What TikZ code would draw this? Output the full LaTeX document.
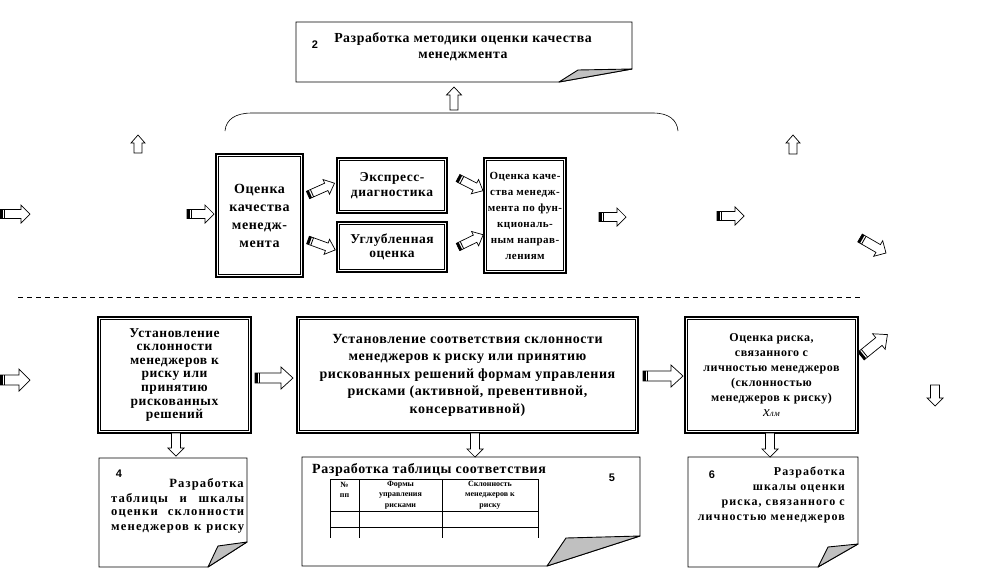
\documentclass[tikz,border=0pt]{standalone}
\usepackage{fontspec}
\setmainfont{Liberation Serif}
\newfontfamily\numfont{Liberation Sans}
\newfontfamily\wsf{Liberation Serif}[LetterSpace=4]
\newfontfamily\wsfw{Liberation Serif}[LetterSpace=9]
\definecolor{foldgray}{HTML}{C0C0C0}
% block arrow: x, y (tail), angle, length, shaft half, head half, head length, striped(1/0)
\newcommand\barw[8]{%
 \begin{scope}[shift={(#1,#2)},rotate=#3]
  \pgfmathsetmacro\arwhb{#4-#7}
  \draw[fill=white,line width=0.7pt,line join=miter] (0pt,-#5pt) -- (\arwhb pt,-#5pt) -- (\arwhb pt,-#6pt) -- (#4pt,0pt) -- (\arwhb pt,#6pt) -- (\arwhb pt,#5pt) -- (0pt,#5pt) -- cycle;
  \ifnum#8=1\relax
   \fill (0pt,-#5pt) rectangle (2.6pt,#5pt);
   \draw[line width=0.8pt] (4.4pt,-#5pt) -- (4.4pt,#5pt);
  \fi
 \end{scope}}
% folded document: x1 y1 x2 y2, bottom end x, right end y, fold point
\newcommand\docshape[8]{%
 \draw[line width=0.9pt] (#1,#2) -- (#3,#2) -- (#3,#6) -- (#5,#4) -- (#1,#4) -- cycle;
 \filldraw[fill=foldgray,line width=0.9pt,line join=round] (#5,#4) -- (#7,#8) -- (#3,#6) -- cycle;}
\newcommand\innerbox[1]{%
 \draw[line width=0.8pt] ([shift={(3.5pt,-3.5pt)}]#1.north west) rectangle ([shift={(-3.5pt,3.5pt)}]#1.south east);}
\begin{document}
\begin{tikzpicture}[x=1pt,y=-1pt,
  dbox/.style={draw,line width=1.6pt,inner sep=0pt,align=center},
  fbig/.style={font={\wsf\bfseries\fontsize{14}{18}\selectfont}},
  fmid/.style={font={\wsf\bfseries\fontsize{13.5}{14.5}\selectfont}},
  ffun/.style={font={\wsf\bfseries\fontsize{11}{16}\selectfont}},
  fb1/.style={font={\wsf\bfseries\fontsize{13.5}{13.6}\selectfont}},
  fb2/.style={font={\wsf\bfseries\fontsize{14}{17.5}\selectfont}},
  fb3/.style={font={\wsf\bfseries\fontsize{12}{15}\selectfont}},
  ftop/.style={font={\wsf\bfseries\fontsize{13.8}{16.5}\selectfont}},
  fdoc/.style={font={\wsfw\bfseries\fontsize{12.6}{15}\selectfont}},
  fdoc6/.style={font={\wsfw\bfseries\fontsize{12}{15.3}\selectfont}},
  fnum/.style={font={\numfont\bfseries\fontsize{11}{13}\selectfont}},
  ftab/.style={font={\bfseries\fontsize{8}{10.5}\selectfont},align=center,inner sep=0pt},
  tline/.style={line width=0.8pt}]
\useasboundingbox (0,0) rectangle (992,584);
\fill[white] (0,0) rectangle (992,584);

% ---------- top document 2 ----------
\docshape{296}{22}{632}{82}{559}{69}{578}{70}
\node[fnum] (n2) at (315,45) {2};
\node[ftop,align=center] (t2) at (463,47) {Разработка методики оценки качества\\менеджмента};
\barw{454}{110}{90}{23}{4}{7.5}{8}{0}
\draw[line width=0.6pt] (225,131) .. controls (226,119) and (236,113) .. (252,113) -- (653,113) .. controls (669,113) and (677,120) .. (678,131);

% free arrows top
\barw{138}{153}{90}{18}{4}{7}{8}{0}
\barw{793}{154}{90}{19}{4}{7}{8}{0}

% ---------- middle row ----------
\node[dbox,fbig,minimum width=87,minimum height=123] (mq) at (259.5,215.5) {Оценка\\качества\\менедж-\\мента};
\innerbox{mq}
\node[dbox,fmid,minimum width=110,minimum height=55] (ex) at (392,185.5) {Экспресс-\\диагностика};
\innerbox{ex}
\node[dbox,fmid,minimum width=110,minimum height=50] (dp) at (392,247) {Углубленная\\оценка};
\innerbox{dp}
\node[dbox,ffun,minimum width=82,minimum height=115] (fn) at (525,215.5) {Оценка каче-\\ства менедж-\\мента по фун-\\кциональ-\\ным направ-\\лениям};
\innerbox{fn}

\barw{0}{214}{0}{30}{4.5}{9}{9}{1}
\barw{187}{214}{0}{27}{4.5}{9}{9}{1}
\barw{308}{195}{24}{29}{4}{8}{9}{1}
\barw{308}{240}{-20}{29}{4}{8}{9}{1}
\barw{458}{178}{-27}{28}{4}{8}{9}{1}
\barw{458}{247}{26}{28}{4}{8}{9}{1}
\barw{599}{217}{0}{27}{4.5}{9}{9}{1}
\barw{717}{216}{0}{27}{4.5}{9}{9}{1}
\barw{860}{238}{-30}{30}{4.5}{9}{9}{1}

% separator
\draw[line width=0.8pt,dash pattern=on 5pt off 4pt] (18,297) -- (863,297);

% ---------- bottom row ----------
\node[dbox,fb1,minimum width=153,minimum height=116] (b1) at (174.5,375) {Установление\\склонности\\менеджеров к\\риску или\\принятию\\рискованных\\решений};
\innerbox{b1}
\node[dbox,fb2,minimum width=341,minimum height=116] (b2) at (467.5,375) {Установление соответствия склонности\\менеджеров к риску или принятию\\рискованных решений формам управления\\рисками (активной, превентивной,\\консервативной)};
\innerbox{b2}
\node[dbox,fb3,minimum width=173,minimum height=116] (b3) at (771.5,375) {Оценка риска,\\связанного с\\личностью менеджеров\\(склонностью\\менеджеров к риску)\\{\fontsize{15}{15}\selectfont\mdseries\itshape x}{\fontsize{9}{9}\selectfont\mdseries\itshape лм}};
\innerbox{b3}

\barw{0}{380}{0}{30}{5}{11}{11}{1}
\barw{255}{378}{0}{38}{5}{11}{12}{1}
\barw{643}{376}{0}{40}{5}{11}{12}{1}
\barw{861}{356}{39}{34}{5}{10}{11}{1}
\barw{935}{385}{-90}{21}{4.5}{8}{8}{0}
\barw{176}{433}{-90}{23}{4.5}{8}{8}{0}
\barw{475}{433}{-90}{24}{4.5}{8}{8}{0}
\barw{770}{433}{-90}{24}{4.5}{8}{8}{0}

% ---------- document 4 ----------
\docshape{99}{458}{247}{567}{208}{542}{218}{546}
\node[fnum] (n4) at (119,474) {4};
\node[fdoc,anchor=east,inner sep=0pt] (t4a) at (244,484) {Разработка};
\node[fdoc,anchor=west,inner sep=0pt] (t4b) at (111,499) {\makebox[133pt][s]{таблицы и шкалы}};
\node[fdoc,anchor=west,inner sep=0pt] (t4c) at (111,514) {\makebox[133pt][s]{оценки склонности}};
\node[fdoc,anchor=west,inner sep=0pt] (t4d) at (111,529) {\makebox[133pt][s]{менеджеров к риску}};

% ---------- document 5 ----------
\docshape{302}{457}{640}{566}{547}{536}{566}{538}
\node[font={\wsf\bfseries\fontsize{14}{16}\selectfont},anchor=west,inner sep=0pt] (t5) at (312,470) {Разработка таблицы соответствия};
\node[fnum] (n5) at (612,478) {5};
\draw[tline] (330,479) -- (538,479);
\draw[tline] (330,511) -- (538,511);
\draw[tline] (330,527) -- (538,527);
\foreach \cx in {330,359,442,538} \draw[tline] (\cx,479) -- (\cx,538);
\node[ftab] (h1) at (344.5,490) {№\\пп};
\node[ftab] (h2) at (400.5,495) {Формы\\управления\\рисками};
\node[ftab] (h3) at (490,495) {Склонность\\менеджеров к\\риску};

% ---------- document 6 ----------
\docshape{688}{457}{858}{567}{818}{544}{828}{547}
\node[fnum] (n6) at (712,475) {6};
\node[fdoc6,align=right,anchor=east,inner sep=0pt] (t6) at (845,495) {Разработка\\шкалы оценки\\риска, связанного с\\личностью менеджеров};
\end{tikzpicture}
\end{document}
